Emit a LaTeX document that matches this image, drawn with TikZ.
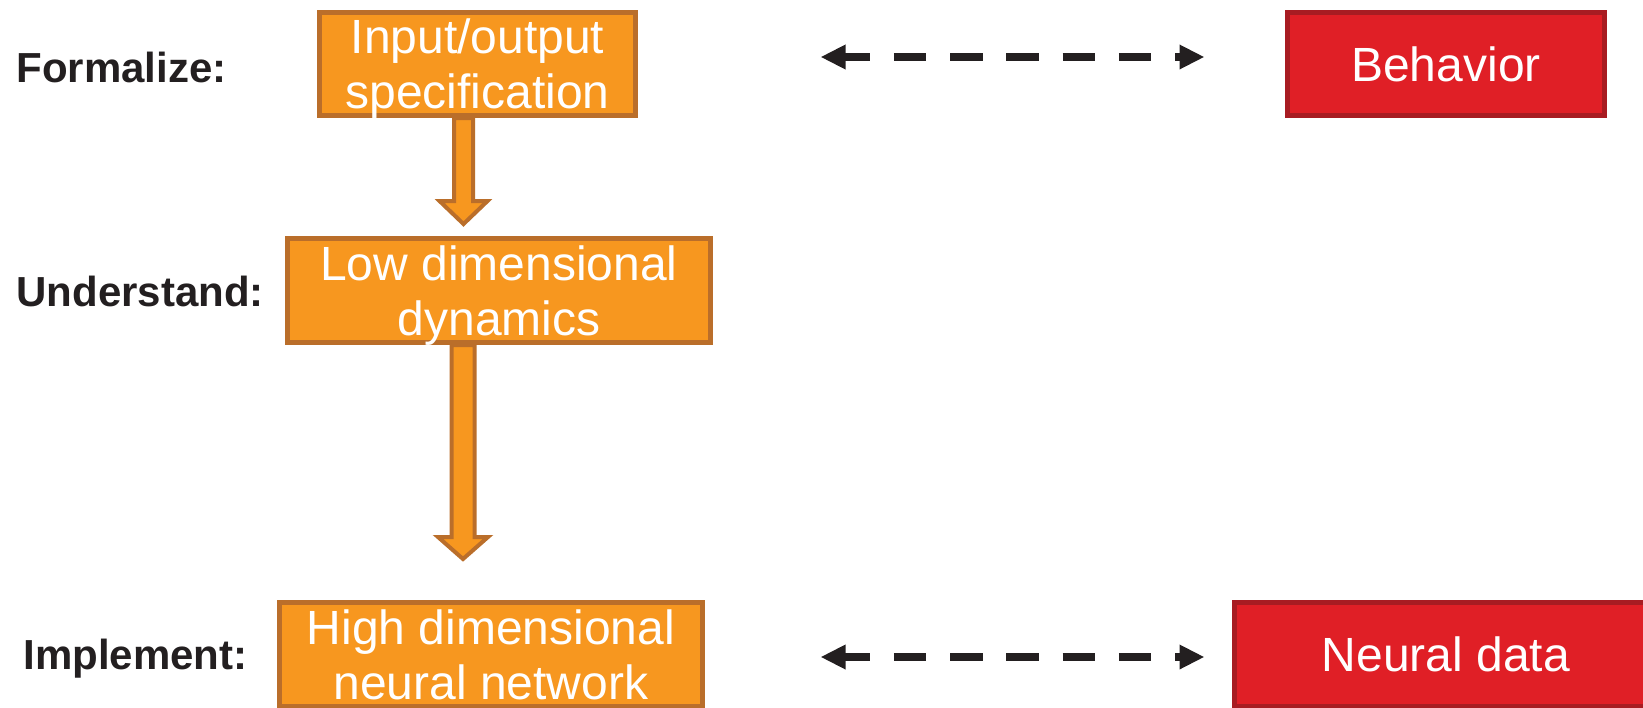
\documentclass[tikz,border=0pt]{standalone}
\usepackage{fontspec}
\setmainfont{Liberation Sans}
\usetikzlibrary{arrows.meta,calc}
\definecolor{orfill}{HTML}{F7971F}
\definecolor{ordraw}{HTML}{BA6E2A}
\definecolor{rdfill}{HTML}{E01F26}
\definecolor{rddraw}{HTML}{A81C22}
\definecolor{ink}{HTML}{231F20}
\tikzset{
  obox/.style={draw=ordraw,fill=orfill,line width=2.5pt,inner sep=0pt,text=white,align=center,
    text depth=0pt,font=\fontsize{24}{27.5}\selectfont},
  rbox/.style={draw=rddraw,fill=rdfill,line width=2.5pt,inner sep=0pt,text=white,align=center,
    text depth=0pt,font=\fontsize{24}{27.5}\selectfont},
  lab/.style={anchor=west,inner sep=0pt,text=ink,font=\fontsize{21}{25}\selectfont\bfseries},
  blockarrow/.style={draw=ordraw,fill=orfill,line width=2pt,line join=miter},
  dasharrow/.style={draw=ink,line width=4pt,
    {Triangle[length=12.5pt,width=11.5pt]}-{Triangle[length=12.5pt,width=11.5pt]},
    dash pattern=on 16.25pt off 11.875pt,dash phase=3.125pt},
}
\begin{document}
\begin{tikzpicture}[x=0.5pt,y=-0.5pt]
\useasboundingbox (0,0) rectangle (1643,707);
\clip (0,0) rectangle (1643,707);
% boxes
\node[obox,minimum width=158pt,minimum height=51.5pt] (ins) at (477.5,64) {Input/output\\specification};
\node[obox,minimum width=211.5pt,minimum height=52pt] (low) at (499,290.5) {Low dimensional\\dynamics};
\node[obox,minimum width=211.5pt,minimum height=52pt] (hnn) at (491,654.5) {High dimensional\\neural network};
\node[rbox,minimum width=158.5pt,minimum height=51.5pt] (beh) at (1446,64) {Behavior};
\node[rbox,minimum width=211.5pt,minimum height=52pt] (neu) at (1446,654.5) {Neural data};
% labels
\node[lab] (lf) at (16,67) {Formalize:};
\node[lab] (lu) at (16,291) {Understand:};
\node[lab] (li) at (23,659) {Implement:};
% block arrows
\coordinate (a1s) at ([xshift=-7pt]ins.south);
\coordinate (a1t) at ([yshift=6pt]a1s |- low.north);
\filldraw[blockarrow] ($(a1s)+(-9.5,0)$) -- ($(a1t)+(-9.5,-23)$) -- ($(a1t)+(-24,-23)$) -- (a1t)
  -- ($(a1t)+(24,-23)$) -- ($(a1t)+(9.5,-23)$) -- ($(a1s)+(9.5,0)$) -- cycle;
\coordinate (a2s) at ([xshift=-18pt]low.south);
\coordinate (a2t) at ([yshift=20.5pt]a2s |- hnn.north);
\filldraw[blockarrow] ($(a2s)+(-11.5,0)$) -- ($(a2t)+(-11.5,-22)$) -- ($(a2t)+(-25,-22)$) -- (a2t)
  -- ($(a2t)+(25,-22)$) -- ($(a2t)+(11.5,-22)$) -- ($(a2s)+(11.5,0)$) -- cycle;
% dashed double arrows
\coordinate (d1s) at ([shift={(91.25pt,3.5pt)}]ins.east);
\coordinate (d1e) at ([shift={(-40.25pt,3.5pt)}]beh.west);
\draw[dasharrow] (d1s) -- (d1e);
\coordinate (d2s) at ([shift={(57.75pt,-1.25pt)}]hnn.east);
\coordinate (d2e) at ([shift={(-13.75pt,-1.25pt)}]neu.west);
\draw[dasharrow] (d2s) -- (d2e);
\end{tikzpicture}
\end{document}
